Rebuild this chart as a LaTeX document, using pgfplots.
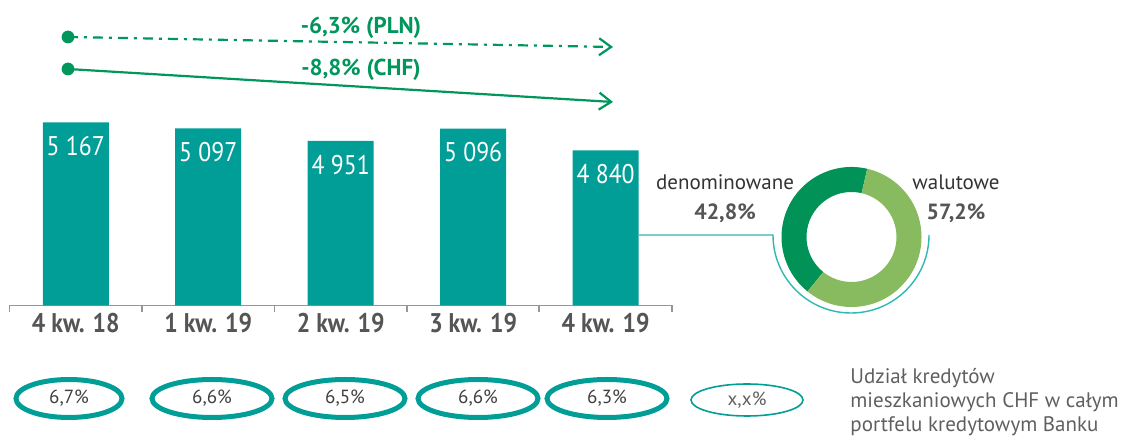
\documentclass[border=0pt]{standalone}
\usepackage{pgfplots}
\pgfplotsset{compat=1.18}
\usepackage{fontspec}
\setmainfont[FakeStretch=0.88]{PT Sans}
\newfontfamily\plainf{PT Sans}
\usetikzlibrary{arrows.meta}
\definecolor{barteal}{RGB}{0,158,150}
\definecolor{arrowgreen}{RGB}{0,150,92}
\definecolor{darkg}{RGB}{0,146,86}
\definecolor{lightg}{RGB}{136,187,95}
\definecolor{lineteal}{RGB}{45,185,176}
\definecolor{axisgray}{RGB}{150,150,150}
\definecolor{labgray}{RGB}{85,85,85}
\definecolor{txtgray}{RGB}{95,95,95}
\begin{document}
\begin{tikzpicture}[x=0.5pt,y=0.5pt]
\useasboundingbox (0,0) rectangle (1129,438);
% ---- bar chart ----
\begin{axis}[
  at={(7.2,154.8)}, anchor=south west, scale only axis,
  width=331.15pt, height=97.2pt,
  xmin=-0.5, xmax=4.5, ymin=3029, ymax=5300,
  ybar, bar width=33pt, clip=false,
  hide y axis, axis x line*=bottom,
  x axis line style={-, draw=axisgray, line width=0.9pt},
  xtick={0,1,2,3,4},
  xticklabels={4 kw. 18,1 kw. 19,2 kw. 19,3 kw. 19,4 kw. 19},
  minor xtick={-0.5,0.5,1.5,2.5,3.5,4.5},
  major tick length=0pt, minor tick length=3.5pt, tick align=outside,
  minor tick style={draw=axisgray, line width=0.9pt},
  xticklabel style={font=\fontsize{13.5}{16}\selectfont\bfseries, text=labgray, yshift=-0.5pt},
  point meta=explicit symbolic, nodes near coords,
  every node near coord/.append style={anchor=center, yshift=-12pt,
     font=\fontsize{13.5}{15}\selectfont, text=white},
]
\addplot[fill=barteal, draw=none] coordinates {
  (0,5167) [5~167]
  (1,5097) [5~097]
  (2,4951) [4~951]
  (3,5096) [5~096]
  (4,4840) [4~840]
};
\end{axis}
% ---- trend arrows ----
\fill[arrowgreen] (68,401) circle[radius=3.2pt];
\draw[arrowgreen, line width=1.1pt, dash pattern=on 5pt off 3pt on 1.5pt off 3pt,
  -{Straight Barb[length=6pt,width=8.5pt,line width=1.1pt]}] (68,401) -- (613,391);
\fill[arrowgreen] (68,369) circle[radius=3.2pt];
\draw[arrowgreen, line width=1.1pt,
  -{Straight Barb[length=6pt,width=8.5pt,line width=1.1pt]}] (68,369) -- (613,336);
\node[text=arrowgreen, font=\plainf\fontsize{11.5}{13}\selectfont\bfseries] at (361,410) {-6,3\% (PLN)};
\node[text=arrowgreen, font=\plainf\fontsize{11.5}{13}\selectfont\bfseries] at (361,368) {-8,8\% (CHF)};
% ---- donut ----
\def\shareA{42.8}
\def\shareB{57.2}
\pgfmathsetmacro\angA{77}
\pgfmathsetmacro\angB{77+\shareA*3.6}
\pgfmathsetmacro\angC{\angB+\shareB*3.6}
\fill[darkg, shift={(851.5,201)}] (\angA:35pt) arc[start angle=\angA, end angle=\angB, radius=35pt]
   -- (\angB:22.5pt) arc[start angle=\angB, end angle=\angA, radius=22.5pt] -- cycle;
\fill[lightg, shift={(851.5,201)}] (\angB:35pt) arc[start angle=\angB, end angle=\angC, radius=35pt]
   -- (\angC:22.5pt) arc[start angle=\angC, end angle=\angB, radius=22.5pt] -- cycle;
\draw[lineteal, line width=0.7pt] (639,203) -- (773,203) arc[start angle=180, end angle=360, radius=39pt];
\node[text=black!80, font=\plainf\fontsize{10.5}{12}\selectfont] at (725,256) {denominowane};
\node[text=labgray, font=\plainf\fontsize{11}{12}\selectfont\bfseries] at (725,225) {42,8\%};
\node[text=black!80, font=\plainf\fontsize{10.5}{12}\selectfont] at (956,256) {walutowe};
\node[text=labgray, font=\plainf\fontsize{11}{12}\selectfont\bfseries] at (956,225) {57,2\%};
% ---- share ellipses ----
\foreach \cx/\rx/\lab in {69/53/{6,7\%}, 212/60/{6,6\%}, 345/60/{6,5\%}, 478/60/{6,6\%}, 607/60/{6,3\%}} {
  \draw[barteal, line width=2.5pt] (\cx,39.5) ellipse[x radius=\rx*0.5pt, y radius=9.5pt];
  \node[text=black!75, font=\plainf\fontsize{9.5}{11}\selectfont] at (\cx,39.5) {\lab};
}
\draw[barteal, line width=0.8pt] (747,38) ellipse[x radius=28pt, y radius=8pt];
\node[text=txtgray, font=\plainf\fontsize{9.5}{11}\selectfont] at (747,38) {x,x\%};
\node[anchor=north west, align=left, inner sep=0pt, text=txtgray,
  font=\plainf\fontsize{10.5}{12}\selectfont] at (850,70) {Udział kredytów\\mieszkaniowych CHF w całym\\portfelu kredytowym Banku};
\end{tikzpicture}
\end{document}
